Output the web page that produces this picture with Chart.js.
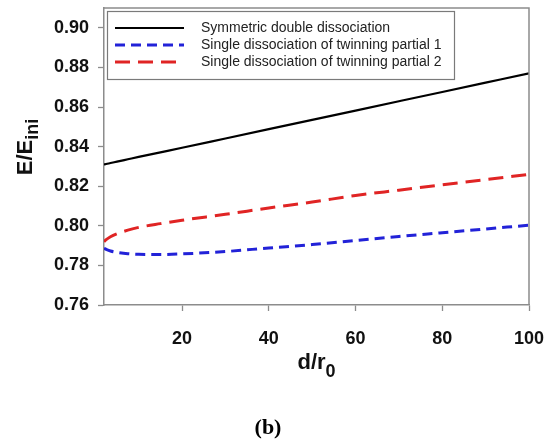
<!DOCTYPE html>
<html>
<head>
<meta charset="utf-8">
<title>E/Eini vs d/r0</title>
<script src="https://cdn.jsdelivr.net/npm/chart.js@4.4.1/dist/chart.umd.min.js"></script>
<style>
  html, body { margin: 0; padding: 0; background: #fff; }
  canvas { display: block; }
</style>
</head>
<body>
<canvas id="chart" width="549" height="440"></canvas>
<script>
// spacing d/r0 where the energies were sampled
const dOverR0 = [2, 2.5, 3.5, 5, 7.5, 10, 15, 20, 30, 40, 50, 60, 70, 80, 90, 100];

// normalised energy E/Eini for each configuration
const symmetricDouble = [0.8310, 0.8312, 0.8317, 0.8324, 0.8336, 0.8348, 0.8371, 0.8394, 0.8441, 0.8488, 0.8535, 0.8582, 0.8629, 0.8676, 0.8723, 0.8770];
const singlePartial1  = [0.7886, 0.7881, 0.7873, 0.7866, 0.7859, 0.7856, 0.7855, 0.7858, 0.7870, 0.7888, 0.7905, 0.7926, 0.7946, 0.7965, 0.7984, 0.8003];
const singlePartial2  = [0.7920, 0.7930, 0.7945, 0.7960, 0.7978, 0.7992, 0.8011, 0.8028, 0.8058, 0.8090, 0.8120, 0.8153, 0.8180, 0.8207, 0.8233, 0.8260];

const seriesNames = [
  'Symmetric double dissociation',
  'Single dissociation of twinning partial 1',
  'Single dissociation of twinning partial 2'
];

const yTicks = [0.76, 0.78, 0.80, 0.82, 0.84, 0.86, 0.88, 0.90];
const xTicks = [20, 40, 60, 80, 100];

const FONT = '"Liberation Sans", Arial, Helvetica, sans-serif';
const AXIS_GREY = '#8c8c8c';

function toPoints(ys) {
  return dOverR0.map((x, i) => ({ x: x, y: ys[i] }));
}

// keep the plot box where the layout padding puts it
function noScalePadding(s) {
  s.paddingTop = 0;
  s.paddingBottom = 0;
  s.paddingLeft = 0;
  s.paddingRight = 0;
}

// frame, legend, axis titles with subscripts and the panel letter
const decorations = {
  id: 'decorations',
  afterDraw(chart) {
    const ctx = chart.ctx;
    const area = chart.chartArea;
    ctx.save();

    // top and right sides of the plot frame
    ctx.strokeStyle = AXIS_GREY;
    ctx.lineWidth = 1.5;
    ctx.beginPath();
    ctx.moveTo(area.left, area.top);
    ctx.lineTo(area.right, area.top);
    ctx.lineTo(area.right, area.bottom);
    ctx.stroke();

    // legend box
    const lx = 107, ly = 11, lw = 347, lh = 68;
    ctx.fillStyle = '#fff';
    ctx.fillRect(lx, ly, lw, lh);
    ctx.strokeStyle = '#7a7a7a';
    ctx.lineWidth = 1.2;
    ctx.strokeRect(lx + 0.5, ly + 0.5, lw, lh);

    const rows = [28, 45, 62];
    chart.data.datasets.forEach((ds, i) => {
      const y = rows[i];
      ctx.strokeStyle = ds.borderColor;
      ctx.lineWidth = ds.borderWidth;
      ctx.setLineDash(ds.borderDash || []);
      ctx.beginPath();
      ctx.moveTo(115, y);
      ctx.lineTo(184, y);
      ctx.stroke();
      ctx.setLineDash([]);
      ctx.fillStyle = '#222';
      ctx.font = '14px ' + FONT;
      ctx.textAlign = 'left';
      ctx.textBaseline = 'middle';
      ctx.fillText(ds.label, 201, y);
    });

    // x axis title: d/r0
    ctx.fillStyle = '#111';
    ctx.textBaseline = 'alphabetic';
    const main = 'd/r';
    ctx.font = 'bold 22px ' + FONT;
    const wMain = ctx.measureText(main).width;
    ctx.font = 'bold 18px ' + FONT;
    const wSub = ctx.measureText('0').width;
    const cx = (area.left + area.right) / 2;
    const x0 = cx - (wMain + wSub) / 2;
    ctx.textAlign = 'left';
    ctx.font = 'bold 22px ' + FONT;
    ctx.fillText(main, x0, 369);
    ctx.font = 'bold 18px ' + FONT;
    ctx.fillText('0', x0 + wMain, 377);

    // y axis title: E/Eini, rotated
    ctx.save();
    ctx.translate(32, 147);
    ctx.rotate(-Math.PI / 2);
    ctx.font = 'bold 22px ' + FONT;
    const yMain = 'E/E';
    const wy = ctx.measureText(yMain).width;
    ctx.font = 'bold 18px ' + FONT;
    const wys = ctx.measureText('ini').width;
    const y0 = -(wy + wys) / 2;
    ctx.font = 'bold 22px ' + FONT;
    ctx.fillText(yMain, y0, 0);
    ctx.font = 'bold 18px ' + FONT;
    ctx.fillText('ini', y0 + wy, 6);
    ctx.restore();

    // panel letter
    ctx.font = 'bold 22px "Liberation Serif", "Times New Roman", serif';
    ctx.textAlign = 'center';
    ctx.textBaseline = 'middle';
    ctx.fillStyle = '#000';
    ctx.fillText('(b)', 268, 428);

    ctx.restore();
  }
};

new Chart(document.getElementById('chart'), {
  type: 'line',
  data: {
    datasets: [
      {
        label: seriesNames[0],
        data: toPoints(symmetricDouble),
        borderColor: '#000000',
        borderWidth: 2.2
      },
      {
        label: seriesNames[1],
        data: toPoints(singlePartial1),
        borderColor: '#2222d8',
        borderWidth: 3,
        borderDash: [10, 6]
      },
      {
        label: seriesNames[2],
        data: toPoints(singlePartial2),
        borderColor: '#e02424',
        borderWidth: 3,
        borderDash: [15, 8]
      }
    ]
  },
  options: {
    responsive: false,
    animation: false,
    layout: { padding: { top: 8, right: 20, left: 0, bottom: 0 } },
    elements: {
      point: { radius: 0, hoverRadius: 0 },
      line: { cubicInterpolationMode: 'monotone', fill: false }
    },
    plugins: {
      legend: { display: false },
      tooltip: { enabled: false }
    },
    scales: {
      x: {
        type: 'linear',
        min: 2,
        max: 100,
        afterBuildTicks: s => { s.ticks = xTicks.map(v => ({ value: v })); },
        afterFit: s => { s.height = 135; noScalePadding(s); },
        grid: { drawOnChartArea: false, color: AXIS_GREY, tickLength: 6, tickWidth: 1.3 },
        border: { color: AXIS_GREY, width: 1.5 },
        ticks: {
          padding: 17,
          color: '#111',
          font: { family: FONT, size: 18, weight: 'bold' },
          maxRotation: 0
        }
      },
      y: {
        min: 0.76,
        max: 0.91,
        afterBuildTicks: s => { s.ticks = yTicks.map(v => ({ value: v })); },
        afterFit: s => { s.width = 104; noScalePadding(s); },
        grid: { drawOnChartArea: false, color: AXIS_GREY, tickLength: 6, tickWidth: 1.3 },
        border: { color: AXIS_GREY, width: 1.5 },
        ticks: {
          padding: 9,
          color: '#111',
          font: { family: FONT, size: 18, weight: 'bold' },
          callback: v => v.toFixed(2)
        }
      }
    }
  },
  plugins: [decorations]
});
</script>
</body>
</html>
